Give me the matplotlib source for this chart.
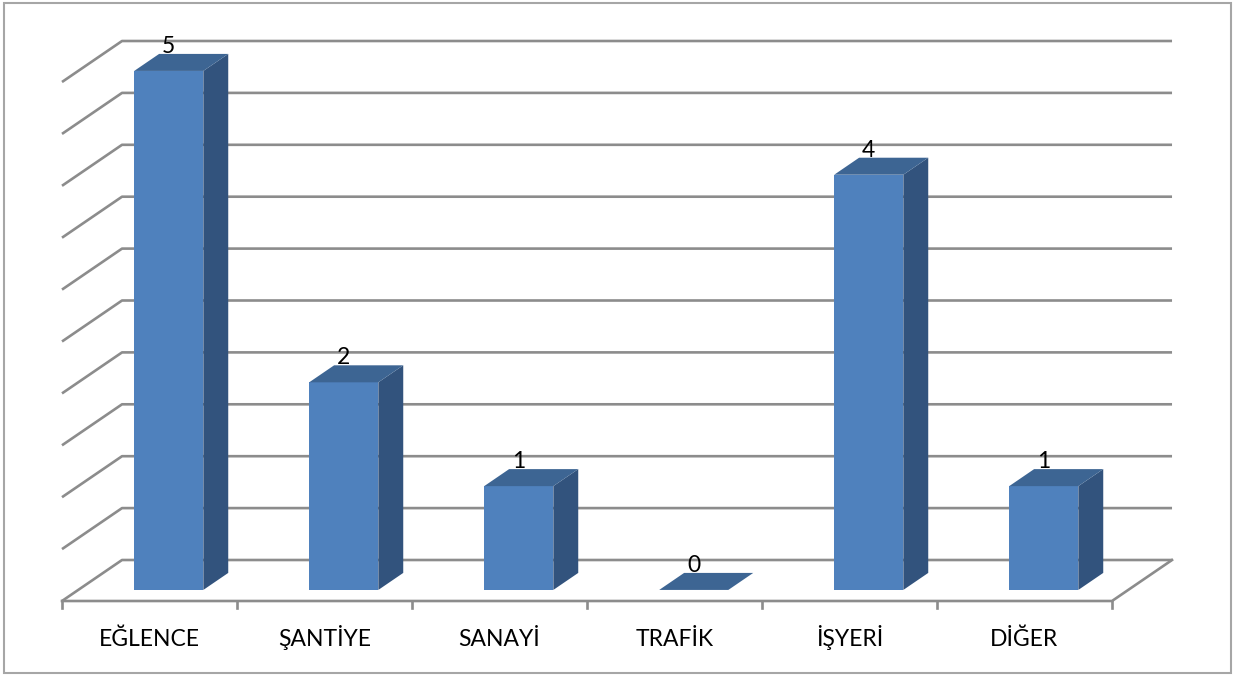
import numpy as np
import matplotlib
matplotlib.use('Agg')
import matplotlib.pyplot as plt
from matplotlib.patches import Polygon, Rectangle

categories = ['EĞLENCE', 'ŞANTİYE', 'SANAYİ', 'TRAFİK', 'İŞYERİ', 'DİĞER']
values = [5, 2, 1, 0, 4, 1]
grid_values = np.arange(0, 5.01, 0.5)

# depth projection (data units per unit of depth)
DX, DY = 0.343, 0.395
BAR_D0, BAR_D1 = 0.27, 0.685
BAR_L, BAR_W = 0.32, 0.395

FRONT = '#4F81BD'
TOP = '#3D6593'
SIDE = '#32537D'
GRID = '#8C8C8C'

W, H = 1233, 675
fig = plt.figure(figsize=(W / 100, H / 100), dpi=100)
ax = fig.add_axes([0, 0, 1, 1])
ax.set_xlim(-62 / 175, (W - 62) / 175)
ax.set_ylim((601 - H) / 103.8, 601 / 103.8)
ax.axis('off')

n = len(categories)

def P(x, v, d):
    return (x + DX * d, v + DY * d)

# walls / gridlines
for v in grid_values:
    ax.plot(*zip(P(0, v, 0), P(0, v, 1), P(n, v, 1)), color=GRID, lw=1.9,
            solid_capstyle='butt', zorder=1)
# floor front edge and right edge
ax.plot(*zip(P(0, 0, 0), P(n, 0, 0), P(n, 0, 1)), color=GRID, lw=1.9, zorder=1)
for i in range(n + 1):
    ax.plot([i, i], [0, -0.07], color=GRID, lw=1.9, zorder=1)

# bars
for i, v in enumerate(values):
    x0 = i + BAR_L
    x1 = x0 + BAR_W
    front = [P(x0, 0, BAR_D0), P(x1, 0, BAR_D0), P(x1, v, BAR_D0), P(x0, v, BAR_D0)]
    side = [P(x1, 0, BAR_D0), P(x1, 0, BAR_D1), P(x1, v, BAR_D1), P(x1, v, BAR_D0)]
    top = [P(x0, v, BAR_D0), P(x1, v, BAR_D0), P(x1, v, BAR_D1), P(x0, v, BAR_D1)]
    if v > 0:
        ax.add_patch(Polygon(front, closed=True, fc=FRONT, ec='none', zorder=3))
        ax.add_patch(Polygon(side, closed=True, fc=SIDE, ec='none', zorder=3))
    ax.add_patch(Polygon(top, closed=True, fc=TOP, ec='none', zorder=3))
    lx = P((x0 + x1) / 2, v, BAR_D0)[0]
    ly = P(0, v, BAR_D1)[1]
    ax.text(lx, ly - 0.03, str(v), ha='center', va='bottom', fontsize=16.5,
            family='Lato', color='black', zorder=4)

for i, c in enumerate(categories):
    ax.text(i + 0.5, -0.434, c, ha='center', va='baseline', fontsize=16.5,
            family='Lato', color='black')

fig.patches.append(Rectangle((4 / W, 2 / H), 1227 / W, 670 / H, transform=fig.transFigure,
                             fill=False, ec='#A6A6A6', lw=1.5))

fig.savefig('out.png', dpi=100)
